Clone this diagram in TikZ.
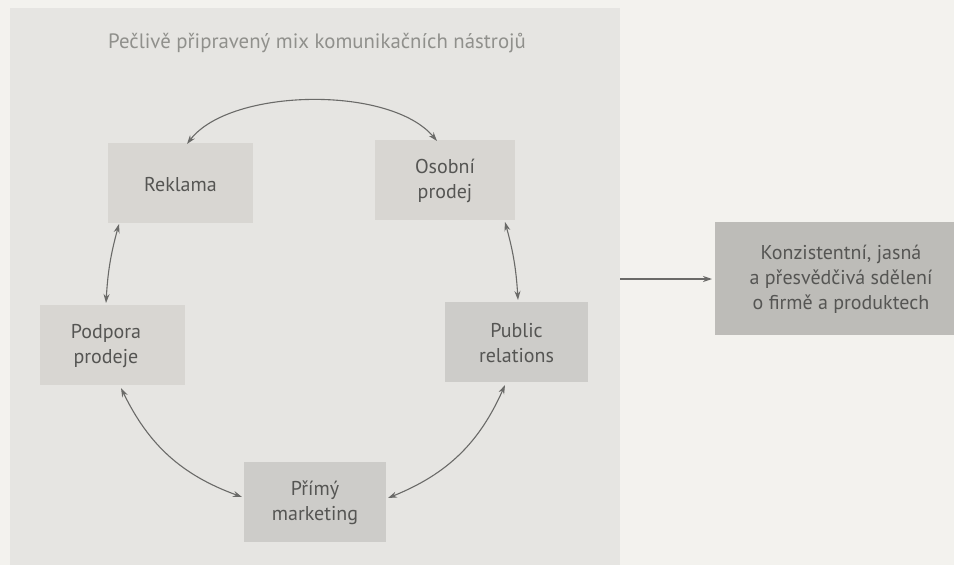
\documentclass[tikz,border=0pt]{standalone}
\usepackage{fontspec}
\setmainfont{PT Sans}
\usetikzlibrary{arrows.meta}
\definecolor{pagebg}{HTML}{F3F2EE}
\definecolor{panelbg}{HTML}{E6E5E2}
\definecolor{boxA}{HTML}{D8D6D2}
\definecolor{boxB}{HTML}{CDCCC9}
\definecolor{boxC}{HTML}{BDBCB8}
\definecolor{txt}{HTML}{555553}
\definecolor{titletxt}{HTML}{90908C}
\definecolor{arrowc}{HTML}{6A6A68}
\begin{document}
\begin{tikzpicture}[x=1pt,y=-1pt,
  tool/.style={fill=#1, draw=none, text=txt, align=center,
    font=\fontsize{20}{25}\selectfont, inner sep=0pt},
  link/.style={draw=arrowc, line width=1.1pt,
    {Stealth[length=9pt,width=6pt]}-{Stealth[length=9pt,width=6pt]}},
  oneway/.style={draw=arrowc, line width=1.1pt, -{Stealth[length=9pt,width=6pt]}}]
  % page and the left panel
  \fill[pagebg] (0,0) rectangle (954,565);
  \useasboundingbox (0,0) rectangle (954,565);
  \fill[panelbg] (10,8) rectangle (620,565);
  % heading of the panel
  \node[anchor=west, text=titletxt, font=\fontsize{20.8}{24}\selectfont, inner sep=0pt]
    (title) at (108,43) {Pečlivě připravený mix komunikačních nástrojů};
  % communication tools
  \fill[boxA] (108,143) rectangle (253,223);
  \node[tool=boxA] (rek) at (180.5,185) {Reklama};
  \fill[boxA] (375,140) rectangle (515,220);
  \node[tool=boxA] (oso) at (445,181) {Osobní\\prodej};
  \fill[boxA] (40,305) rectangle (185,385);
  \node[tool=boxA] (pod) at (106,346) {Podpora\\prodeje};
  \fill[boxB] (445,302) rectangle (588,382);
  \node[tool=boxB] (pr) at (516.5,343) {Public\\relations};
  \fill[boxB] (244,462) rectangle (386,542);
  \node[tool=boxB] (pm) at (315,503) {Přímý\\marketing};
  % resulting message
  \fill[boxC] (715,222) rectangle (954,335);
  \node[tool=boxC] (msg) at (841,279) {Konzistentní, jasná\\a přesvědčivá sdělení\\o firmě a produktech};
  % anchor points on the box edges
  \coordinate (rekT) at (187,144);
  \coordinate (osoT) at (437,141);
  \coordinate (rekB) at (119,224);
  \coordinate (podT) at (106,303);
  \coordinate (osoB) at (505,222);
  \coordinate (prT) at (518,300);
  \coordinate (podB) at (121,388);
  \coordinate (pmL) at (242,497);
  \coordinate (prB) at (505,385);
  \coordinate (pmR) at (388,498);
  \coordinate (panelR) at (620,279);
  \coordinate (msgL) at (712,279);
  % connectors
  \draw[link] (rekT) .. controls (230,88) and (390,85) .. (osoT);
  \draw[link] (rekB) to[bend right=6] (podT);
  \draw[link] (osoB) to[bend left=6] (prT);
  \draw[link] (podB) to[bend right=22] (pmL);
  \draw[link] (prB) to[bend left=22] (pmR);
  \draw[oneway] (panelR) -- (msgL);
\end{tikzpicture}
\end{document}
